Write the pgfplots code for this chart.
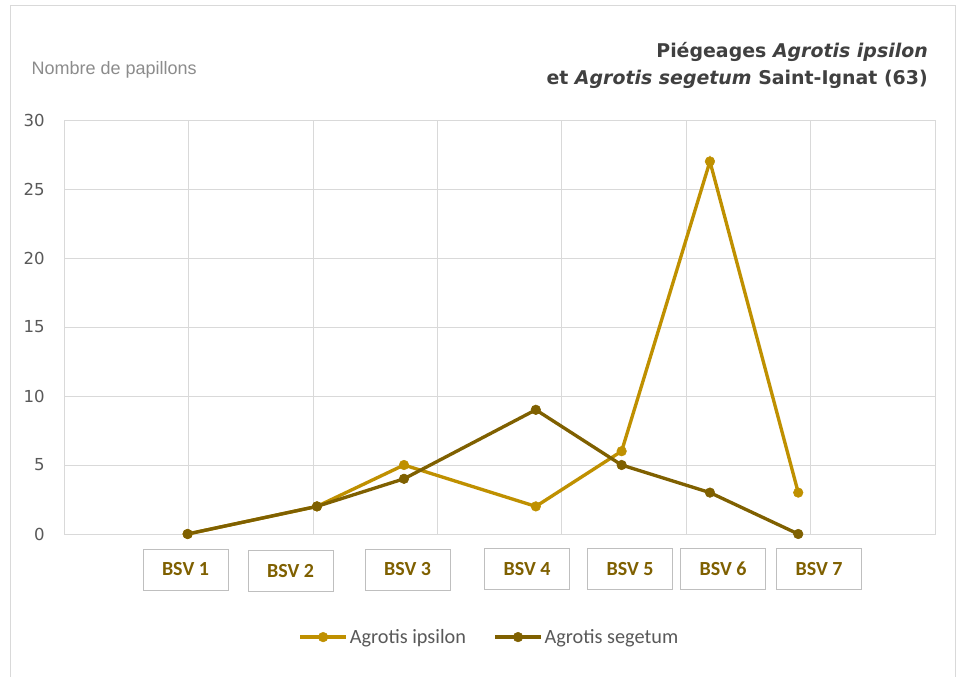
\documentclass[border=0pt]{standalone}
\usepackage{fontspec}
\setmainfont{Liberation Sans}
\newfontfamily\dejavu{DejaVu Sans}
\newfontfamily\carlito{Carlito}
\usepackage{pgfplots}
\pgfplotsset{compat=1.18}
\definecolor{ips}{HTML}{BF9000}
\definecolor{seg}{HTML}{7F6000}
\definecolor{gridc}{HTML}{D9D9D9}
\definecolor{boxc}{HTML}{BFBFBF}
\definecolor{txtc}{HTML}{595959}
\definecolor{titc}{HTML}{404040}
\definecolor{bsvc}{HTML}{7F6000}
\begin{document}
\begin{tikzpicture}
\path[use as bounding box] (0,0) rectangle (723.75pt,507pt);
\fill[white] (0,0) rectangle (723.75pt,507pt);
\draw[gridc, line width=0.75pt] (7.5pt,-2pt) -- (7.5pt,502.5pt) -- (716.25pt,502.5pt) -- (716.25pt,-2pt);
% title
\node[anchor=base east, inner sep=0pt, text=titc, font={\dejavu\bfseries\fontsize{14.2}{17}\selectfont}] at (696pt,463.5pt) {Piégeages \textit{Agrotis ipsilon}};
\node[anchor=base east, inner sep=0pt, text=titc, font={\dejavu\bfseries\fontsize{14.2}{17}\selectfont}] at (696pt,443.25pt) {et \textit{Agrotis segetum} Saint-Ignat (63)};
\node[anchor=base west, inner sep=0pt, text=gray!90, font={\fontsize{13.5}{15}\selectfont}] at (23.5pt,450.75pt) {Nombre de papillons};
\begin{axis}[
  at={(48.375pt,106.5pt)}, anchor=south west,
  scale only axis, width=652.9pt, height=310.5pt,
  xmin=0, xmax=7, ymin=0, ymax=30,
  xtick={0,...,7}, xticklabels={},
  ytick={0,5,...,30},
  major tick length=0pt,
  grid=major,
  grid style={draw=gridc, line width=0.75pt},
  axis line style={draw=gridc, line width=0.75pt},
  /pgf/number format/assume math mode=true,
  yticklabel style={font={\dejavu\fontsize{12.4}{14}\selectfont}, text=txtc, inner sep=0pt, xshift=-14.6pt},
  clip=false,
  legend columns=2,
  legend style={at={(0.488,-0.249)}, anchor=center, draw=none, fill=none,
     font={\carlito\fontsize{15.2}{17}\selectfont}, text=txtc,
     nodes={inner sep=1.5pt},
     /tikz/every even column/.append style={column sep=19pt}},
  legend image code/.code={\draw[#1, mark repeat=2, mark phase=2] plot coordinates {(0pt,0pt) (17.25pt,0pt) (34.5pt,0pt)};},
]
\addplot[color=ips, line width=2.5pt, mark=*, mark size=3.6pt, mark options={solid, fill=ips, draw=ips, line width=0.4pt}]
 coordinates {(0.99,0) (2.03,2) (2.73,5) (3.79,2) (4.48,6) (5.19,27) (5.90,3)};
\addlegendentry{Agrotis ipsilon}
\addplot[color=seg, line width=2.5pt, mark=*, mark size=3.6pt, mark options={solid, fill=seg, draw=seg, line width=0.4pt}]
 coordinates {(0.99,0) (2.03,2) (2.73,4) (3.79,9) (4.48,5) (5.19,3) (5.90,0)};
\addlegendentry{Agrotis segetum}
\end{axis}
% category boxes
\foreach \cx/\cy/\lab in {185.5/569.5/BSV 1, 290.5/571/BSV 2, 407.5/569.5/BSV 3, 527/569/BSV 4, 630/569/BSV 5, 723/569/BSV 6, 819/569/BSV 7}{
  \node[draw=boxc, line width=0.75pt, fill=white, minimum width=63.75pt, minimum height=30.75pt, inner sep=0pt, text=bsvc, font={\carlito\bfseries\fontsize{15}{17}\selectfont}]
   at ({\cx*0.75pt},{(676-\cy)*0.75pt}) {\lab};
}
\end{tikzpicture}
\end{document}
